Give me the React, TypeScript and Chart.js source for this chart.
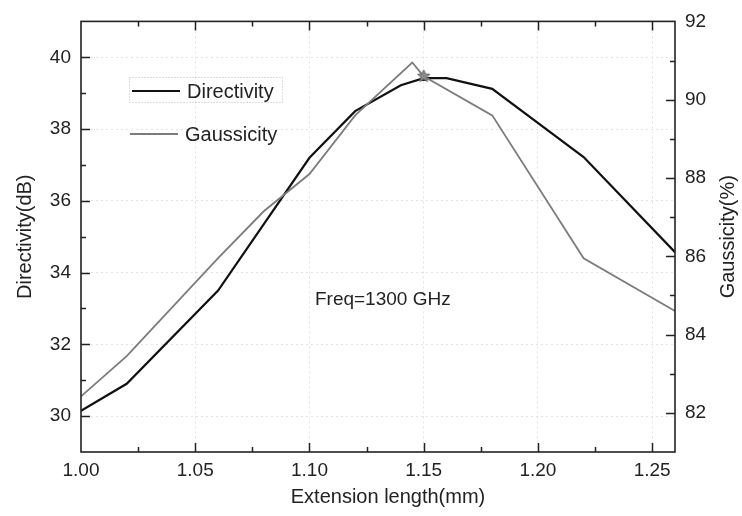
import React, { useEffect, useRef } from 'react';
import { Chart, registerables } from 'chart.js';

Chart.register(...registerables);

// ---- data ----
const extDirectivity = [1.0, 1.02, 1.06, 1.1, 1.12, 1.14, 1.15, 1.16, 1.18, 1.22, 1.26];
const directivity = [30.15, 30.9, 33.5, 37.2, 38.5, 39.22, 39.42, 39.42, 39.12, 37.22, 34.57];
const extGaussicity = [1.0, 1.02, 1.06, 1.08, 1.1, 1.12, 1.145, 1.15, 1.18, 1.22, 1.26];
const gaussicity = [82.42, 83.45, 85.95, 87.15, 88.1, 89.6, 90.95, 90.6, 89.6, 85.95, 84.6];
const seriesNames = ['Directivity', 'Gaussicity'];
const markerExt = 1.15;
const xRange = [1.0, 1.26];
const leftRange = [29, 41];
const rightRange = [81, 92];
const xTickValues = [1.0, 1.05, 1.1, 1.15, 1.2, 1.25];
const leftTickValues = [30, 32, 34, 36, 38, 40];
const rightTickValues = [82, 84, 86, 88, 90, 92];
const annotation = 'Freq=1300 GHz';
const annotationAt = { x: 1.1024, y: 33.25 };
const xTitle = 'Extension length(mm)';
const leftTitle = 'Directivity(dB)';
const rightTitle = 'Gaussicity(%)';

const FONT = '"Liberation Sans", Arial, Helvetica, sans-serif';
const INK = '#222';
const DIR_COLOR = '#111';
const GAU_COLOR = '#7c7c7c';

function makeStar(r: number, fill: string) {
  const s = Math.ceil(r * 2 + 2);
  const c = document.createElement('canvas');
  c.width = s;
  c.height = s;
  const g = c.getContext('2d')!;
  g.beginPath();
  for (let i = 0; i < 10; i++) {
    const ang = -Math.PI / 2 + (i * Math.PI) / 5;
    const rr = i % 2 === 0 ? r : r * 0.45;
    g.lineTo(s / 2 + rr * Math.cos(ang), s / 2 + rr * Math.sin(ang));
  }
  g.closePath();
  g.fillStyle = fill;
  g.fill();
  g.strokeStyle = '#6a6a6a';
  g.lineWidth = 1;
  g.stroke();
  return c;
}

const framePlugin = {
  id: 'frameDecor',
  afterDatasetsDraw(chart: any) {
    const { ctx, chartArea: a, scales } = chart;
    const x = scales.x;
    const y = scales.y;
    const y1 = scales.y1;
    ctx.save();
    ctx.strokeStyle = INK;
    ctx.lineWidth = 1.6;
    ctx.strokeRect(a.left, a.top, a.right - a.left, a.bottom - a.top);
    ctx.lineWidth = 1.5;
    ctx.beginPath();
    // x ticks (bottom and top), inward
    for (let i = 1; i < 11; i++) {
      const v = xRange[0] + i * 0.025;
      const px = Math.round(x.getPixelForValue(v)) + 0.5;
      const len = i % 2 === 0 ? 9 : 5;
      ctx.moveTo(px, a.bottom);
      ctx.lineTo(px, a.bottom - len);
      ctx.moveTo(px, a.top);
      ctx.lineTo(px, a.top + len);
    }
    // left ticks
    for (let v = leftRange[0] + 1; v < leftRange[1]; v++) {
      const py = Math.round(y.getPixelForValue(v)) + 0.5;
      const len = v % 2 === 0 ? 9 : 5;
      ctx.moveTo(a.left, py);
      ctx.lineTo(a.left + len, py);
    }
    // right ticks
    for (let v = rightRange[0] + 1; v < rightRange[1]; v++) {
      const py = Math.round(y1.getPixelForValue(v)) + 0.5;
      const len = v % 2 === 0 ? 9 : 5;
      ctx.moveTo(a.right, py);
      ctx.lineTo(a.right - len, py);
    }
    ctx.stroke();

    // titles
    ctx.fillStyle = INK;
    ctx.font = `20px ${FONT}`;
    ctx.textAlign = 'center';
    ctx.textBaseline = 'middle';
    ctx.fillText(xTitle, (a.left + a.right) / 2 + 10, 497);
    ctx.save();
    ctx.translate(25, (a.top + a.bottom) / 2);
    ctx.rotate(-Math.PI / 2);
    ctx.fillText(leftTitle, 0, 0);
    ctx.restore();
    ctx.save();
    ctx.translate(728, (a.top + a.bottom) / 2);
    ctx.rotate(-Math.PI / 2);
    ctx.fillText(rightTitle, 0, 0);
    ctx.restore();

    // annotation
    ctx.textAlign = 'left';
    ctx.font = `19px ${FONT}`;
    ctx.fillText(annotation, x.getPixelForValue(annotationAt.x), y.getPixelForValue(annotationAt.y));

    // legend
    const lx = a.left + 50;
    const ly1 = 91;
    const ly2 = 134;
    ctx.setLineDash([1, 2]);
    ctx.strokeStyle = '#b8b8b8';
    ctx.lineWidth = 1;
    ctx.strokeRect(lx - 1.5, 77.5, 153, 25);
    ctx.setLineDash([]);
    ctx.lineWidth = 2;
    ctx.strokeStyle = DIR_COLOR;
    ctx.beginPath();
    ctx.moveTo(lx + 1, ly1);
    ctx.lineTo(lx + 49, ly1);
    ctx.stroke();
    ctx.strokeStyle = GAU_COLOR;
    ctx.lineWidth = 1.8;
    ctx.beginPath();
    ctx.moveTo(lx - 1, ly2);
    ctx.lineTo(lx + 47, ly2);
    ctx.stroke();
    ctx.font = `20px ${FONT}`;
    ctx.fillStyle = INK;
    ctx.fillText(seriesNames[0], lx + 56, ly1 + 1);
    ctx.fillText(seriesNames[1], lx + 54, ly2 + 1);
    ctx.restore();
  },
};

export default function App() {
  const ref = useRef<HTMLCanvasElement>(null);
  useEffect(() => {
    document.body.style.margin = '0';
    const star = makeStar(6.5, '#8a8a8a');
    const tickFont = { family: FONT, size: 19 };
    const chart = new Chart(ref.current!, {
      type: 'line',
      data: {
        datasets: [
          {
            label: seriesNames[0],
            data: extDirectivity.map((e, i) => ({ x: e, y: directivity[i] })),
            yAxisID: 'y',
            borderColor: DIR_COLOR,
            backgroundColor: DIR_COLOR,
            borderWidth: 2.2,
            tension: 0,
            pointStyle: 'rect',
            pointRadius: extDirectivity.map((e) => (e === markerExt ? 4 : 0)),
            pointBorderWidth: 0,
            order: 1,
          },
          {
            label: seriesNames[1],
            data: extGaussicity.map((e, i) => ({ x: e, y: gaussicity[i] })),
            yAxisID: 'y1',
            borderColor: GAU_COLOR,
            backgroundColor: GAU_COLOR,
            borderWidth: 1.8,
            tension: 0,
            pointStyle: extGaussicity.map((e) => (e === markerExt ? star : 'circle')) as any,
            pointRadius: extGaussicity.map((e) => (e === markerExt ? 6 : 0)),
            order: 0,
          },
        ],
      },
      options: {
        animation: false,
        responsive: false,
        devicePixelRatio: 1,
        events: [],
        layout: { padding: { top: 17, left: 0, right: 0, bottom: 0 } },
        plugins: { legend: { display: false }, tooltip: { enabled: false } },
        scales: {
          x: {
            type: 'linear',
            min: xRange[0],
            max: xRange[1],
            afterFit: (s: any) => {
              s.height = 64;
            },
            afterBuildTicks: (s: any) => {
              s.ticks = xTickValues.map((v) => ({ value: v }));
            },
            grid: { color: '#e3e3e3', drawTicks: false, lineWidth: 1 },
            border: { display: false, dash: [2, 3] },
            ticks: {
              padding: 7,
              color: INK,
              font: tickFont,
              callback: (v: any) => Number(v).toFixed(2),
              maxRotation: 0,
              autoSkip: false,
            },
          },
          y: {
            type: 'linear',
            position: 'left',
            min: leftRange[0],
            max: leftRange[1],
            afterFit: (s: any) => {
              s.width = 81;
            },
            afterBuildTicks: (s: any) => {
              s.ticks = leftTickValues.map((v) => ({ value: v }));
            },
            grid: { color: '#e3e3e3', drawTicks: false, lineWidth: 1 },
            border: { display: false, dash: [2, 3] },
            ticks: {
              padding: 10,
              color: INK,
              font: tickFont,
              autoSkip: false,
            },
          },
          y1: {
            type: 'linear',
            position: 'right',
            min: rightRange[0],
            max: rightRange[1],
            afterFit: (s: any) => {
              s.width = 67;
            },
            afterBuildTicks: (s: any) => {
              s.ticks = rightTickValues.map((v) => ({ value: v }));
            },
            grid: { display: false, drawTicks: false },
            border: { display: false },
            ticks: {
              padding: 10,
              color: INK,
              font: tickFont,
              autoSkip: false,
            },
          },
        },
      },
      plugins: [framePlugin],
    });
    return () => chart.destroy();
  }, []);
  return (
    <div style={{ position: 'absolute', left: 0, top: 0, width: 742, height: 516 }}>
      <canvas ref={ref} width={742} height={516} style={{ display: 'block' }} />
    </div>
  );
}
